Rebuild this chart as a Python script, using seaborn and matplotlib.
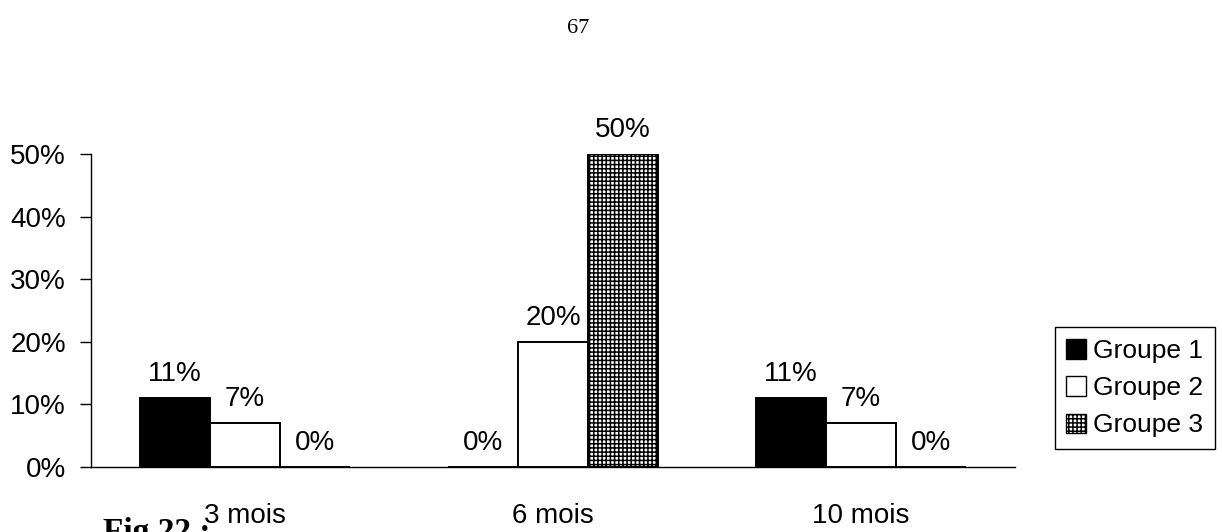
import matplotlib
matplotlib.use("Agg")
import matplotlib.pyplot as plt
from matplotlib.patches import Patch
import seaborn as sns
import pandas as pd

# Chart data
periods = ["3 mois", "6 mois", "10 mois"]
groups = ["Groupe 1", "Groupe 2", "Groupe 3"]
groupe_1 = [11, 0, 11]
groupe_2 = [7, 20, 7]
groupe_3 = [0, 50, 0]
y_ticks = [0, 10, 20, 30, 40, 50]

rows = []
for g, vals in zip(groups, [groupe_1, groupe_2, groupe_3]):
    for p, v in zip(periods, vals):
        rows.append({"period": p, "group": g, "value": v})
df = pd.DataFrame(rows)

sns.set_theme(style="white")
plt.rcParams["font.family"] = ["Liberation Sans", "DejaVu Sans"]
plt.rcParams["hatch.linewidth"] = 1.1
plt.rcParams["hatch.color"] = "black"
plt.rcParams["text.color"] = "black"
plt.rcParams["xtick.color"] = "black"
plt.rcParams["ytick.color"] = "black"

fig = plt.figure(figsize=(12.22, 5.32), dpi=100)
ax = fig.add_axes([0.0745, 0.122, 0.756, 0.5885])

face = {"Groupe 1": "black", "Groupe 2": "white", "Groupe 3": "white"}
sns.barplot(data=df, x="period", y="value", hue="group", palette=face,
            edgecolor="black", linewidth=1.4, width=0.68, gap=0,
            legend=False, ax=ax)

hatches = ["", "", "++++"]
for cont, h, vals in zip(ax.containers, hatches, [groupe_1, groupe_2, groupe_3]):
    for bar, v in zip(cont, vals):
        if h:
            bar.set_hatch(h)
        ax.annotate(f"{v}%", (bar.get_x() + bar.get_width() / 2, v),
                    xytext=(0, 8), textcoords="offset points",
                    ha="center", va="bottom", fontsize=20, color="black")

ax.set_xlim(-0.5, 2.5)
ax.set_ylim(0, 50)
ax.set_yticks(y_ticks)
ax.set_yticklabels([f"{t}%" for t in y_ticks], fontsize=20)
ax.set_xlabel("")
ax.set_ylabel("")
ax.tick_params(axis="x", which="major", length=0, pad=26, labelsize=20, labelcolor="black")
ax.set_xticks([-0.5, 0.5, 1.5, 2.5], minor=True)
ax.tick_params(axis="x", which="minor", length=8, width=1, direction="out", color="black")
ax.tick_params(axis="y", length=8, width=1, direction="out", color="black",
               labelcolor="black", pad=10, left=True)

for side in ["top", "right"]:
    ax.spines[side].set_visible(False)
for side in ["left", "bottom"]:
    ax.spines[side].set_color("black")
    ax.spines[side].set_linewidth(1.0)

handles = [Patch(facecolor="black", edgecolor="black", label="Groupe 1"),
           Patch(facecolor="white", edgecolor="black", label="Groupe 2"),
           Patch(facecolor="white", edgecolor="black", hatch="++++", label="Groupe 3")]
leg = fig.legend(handles=handles, loc="upper left", bbox_to_anchor=(0.863, 0.385),
                 fontsize=19, frameon=True, fancybox=False, framealpha=1,
                 edgecolor="black", handlelength=0.75, handleheight=0.75,
                 handletextpad=0.25, labelspacing=0.5, borderpad=0.45,
                 borderaxespad=0)
leg.get_frame().set_linewidth(1.0)

# Page number and figure caption
fig.text(0.473, 0.947, "67", fontsize=16, family=["Liberation Serif", "DejaVu Serif"],
         ha="center", va="center")
fig.text(0.084, -0.016, "Fig.22 :", fontsize=24, fontweight="bold",
         family=["Liberation Serif", "DejaVu Serif"], ha="left", va="baseline")

fig.savefig("out.png", dpi=100)
